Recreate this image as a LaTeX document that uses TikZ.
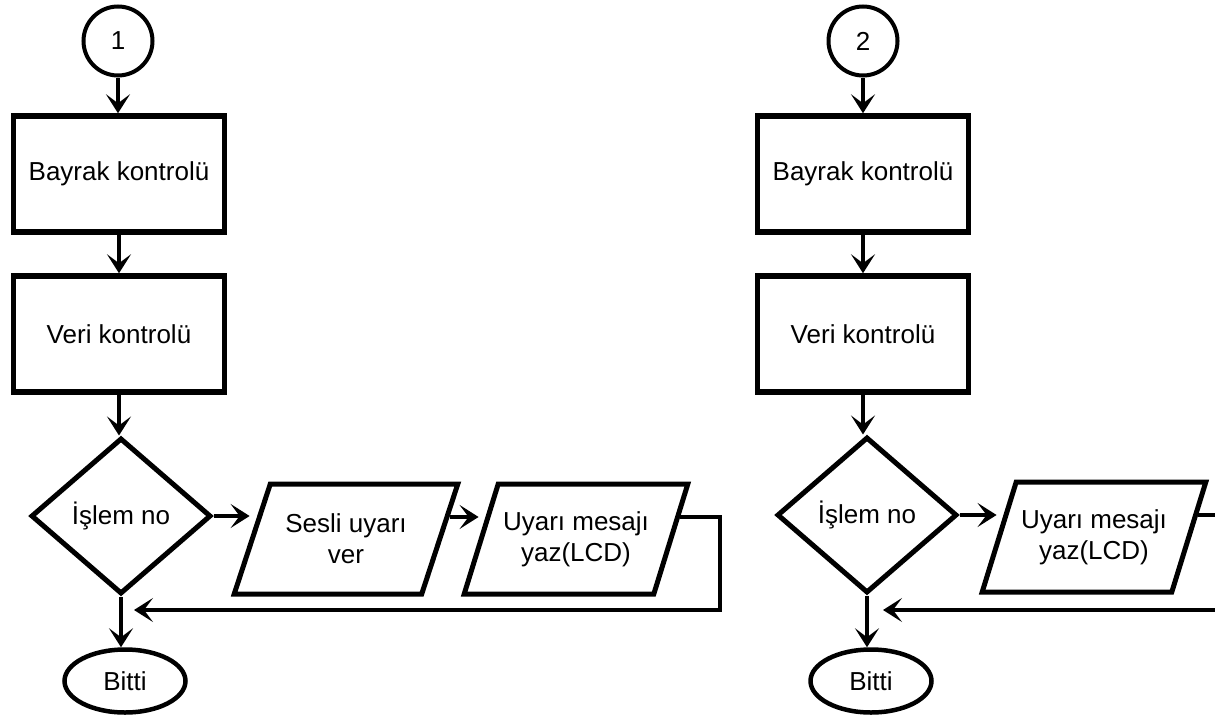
\documentclass[tikz,border=0pt]{standalone}
\usepackage{fontspec}
\setmainfont{Liberation Sans}
\usetikzlibrary{shapes.geometric,arrows.meta}

\begin{document}
\begin{tikzpicture}[x=1pt,y=-1pt,
    every node/.style={font=\fontsize{26}{31}\selectfont,align=center},
    conn/.style={draw,circle,line width=4pt,minimum size=69pt,inner sep=0pt},
    box/.style={draw,line width=5.5pt,minimum width=211pt,minimum height=116pt},
    decision/.style={draw,diamond,line width=5pt,minimum width=180pt,minimum height=156pt,inner sep=0pt},
    io/.style={draw,trapezium,trapezium left angle=60,trapezium right angle=120,
        trapezium stretches=true,line width=5pt,minimum width=224pt,minimum height=110pt,inner sep=0pt},
    stop/.style={draw,ellipse,line width=4.5pt,minimum width=121pt,minimum height=63pt},
    arr/.style={-{Stealth[length=19pt,width=24pt,inset=9pt]},line width=4pt}]
    \useasboundingbox (0,0) rectangle (1215,717);

    % first routine
    \node[conn] (c1) at (118,41) {1};
    \node[box] (b1) at (119,174) {Bayrak kontrolü};
    \node[box] (b2) at (119,334) {Veri kontrolü};
    \node[decision] (d1) at (121,516) {İşlem no};
    \node[io] (p1) at (346,539) {Sesli uyarı\\ver};
    \node[io] (p2) at (576,539) {Uyarı mesajı\\yaz(LCD)};
    \node[stop] (e1) at (125,681) {Bitti};
    \coordinate (m1) at (134,610);
    \draw[arr] (c1) -- (c1 |- b1.north);
    \draw[arr] (b1) -- (b2);
    \draw[arr] (b2) -- (b2.south |- d1.north);
    \draw[arr] (d1.east) -- (d1.east -| p1.west);
    \draw[arr] (p1.12) -- (p1.12 -| p2.west);
    \draw[arr] (p2.12) -- ++(40,0) |- (m1);
    \draw[arr] (d1.south) -- (d1.south |- e1.north);

    % second routine
    \node[conn] (c2) at (863,41) {2};
    \node[box] (b3) at (863,174) {Bayrak kontrolü};
    \node[box] (b4) at (863,334) {Veri kontrolü};
    \node[decision] (d2) at (867,515) {İşlem no};
    \node[io] (p3) at (1094,537) {Uyarı mesajı\\yaz(LCD)};
    \node[stop] (e2) at (871,681) {Bitti};
    \coordinate (m2) at (883,610);
    \draw[arr] (c2) -- (c2 |- b3.north);
    \draw[arr] (b3) -- (b4);
    \draw[arr] (b4) -- (b4.south |- d2.north);
    \draw[arr] (d2.east) -- (d2.east -| p3.west);
    \draw[arr] (p3.12) -- ++(21,0) |- (m2);
    \draw[arr] (d2.south) -- (d2.south |- e2.north);
\end{tikzpicture}
\end{document}
